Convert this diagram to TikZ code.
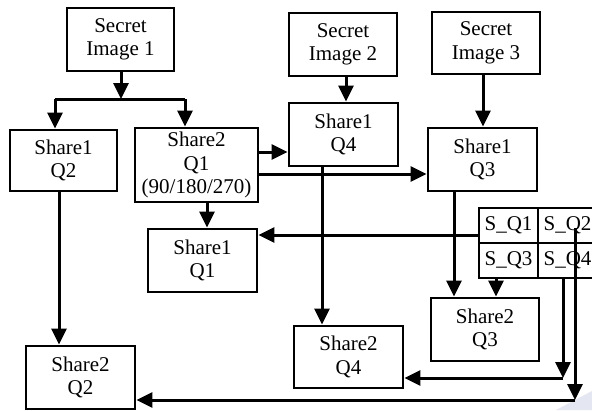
\documentclass[tikz,border=0pt]{standalone}
\usepackage{fontspec}
\setmainfont{Liberation Serif}
\usetikzlibrary{arrows.meta}
\definecolor{wmark}{RGB}{228,230,241}
\begin{document}
\begin{tikzpicture}[x=1pt,y=-1pt,
  box/.style={draw,line width=2.8pt,inner sep=0pt,align=center,
    font=\fontsize{21}{23.5}\selectfont},
  cell/.style={draw,line width=2.6pt,inner sep=0pt,minimum width=59pt,minimum height=35pt,
    font=\fontsize{21}{23.5}\selectfont},
  arr/.style={line width=3pt,-{Triangle[length=16pt,width=15pt]}},
  ln/.style={line width=3pt}]
\useasboundingbox (0,0) rectangle (592,410);
\fill[wmark] (556,410) -- (592,391) -- (592,410) -- cycle;
% boxes
\node[box,minimum width=107pt,minimum height=63pt] (si1) at (120.5,39.5) {Secret\\Image 1};
\node[box,minimum width=108pt,minimum height=63pt] (si2) at (343,44.5) {Secret\\Image 2};
\node[box,minimum width=108pt,minimum height=62pt] (si3) at (486,43) {Secret\\Image 3};
\node[box,minimum width=107pt,minimum height=61pt] (s1q2) at (63.5,160.5) {Share1\\Q2};
\node[box,minimum width=123pt,minimum height=74pt] (s2q1) at (196.5,165) {Share2\\Q1\\(90/180/270)};
\node[box,minimum width=109pt,minimum height=63pt] (s1q4) at (343.5,134.5) {Share1\\Q4};
\node[box,minimum width=109pt,minimum height=63pt] (s1q3) at (482.5,159.5) {Share1\\Q3};
\node[box,minimum width=109pt,minimum height=63pt] (s1q1) at (202.5,260.5) {Share1\\Q1};
\node[box,minimum width=109pt,minimum height=63pt] (s2q2) at (80.5,377.5) {Share2\\Q2};
\node[box,minimum width=109pt,minimum height=62pt] (s2q4) at (348.5,357) {Share2\\Q4};
\node[box,minimum width=108pt,minimum height=63pt] (s2q3) at (485,329.5) {Share2\\Q3};
% grid
\node[cell] (c1) at (508.5,225.5) {S\_Q1};
\node[cell] (c2) at (567.5,225.5) {S\_Q2};
\node[cell] (c3) at (508.5,260.5) {S\_Q3};
\node[cell] (c4) at (567.5,260.5) {S\_Q4};
% split from secret image 1
\coordinate (j1) at (121,99);
\coordinate (hl) at (55,99);
\coordinate (hr) at (185,99);
\draw[arr] (si1.south -| j1) -- (j1);
\draw[ln] (hl) -- (hr);
\draw[arr] (hl) -- (hl |- s1q2.north);
\draw[arr] (hr) -- (hr |- s2q1.north);
% from share2 q1
\draw[arr] (s2q1.east |- 0,152) -- (s1q4.west |- 0,152);
\draw[arr] (s2q1.east |- 0,174) -- (s1q3.west |- 0,174);
\draw[arr] (s2q1.south -| 207,0) -- (s1q1.north -| 207,0);
% secret images 2,3
\draw[arr] (si2.south -| 346,0) -- (s1q4.north -| 346,0);
\draw[arr] (si3.south -| 483,0) -- (s1q3.north -| 483,0);
% verticals
\draw[arr] (s1q2.south -| 59,0) -- (s2q2.north -| 59,0);
\draw[arr] (s1q4.south -| 322,0) -- (s2q4.north -| 322,0);
\draw[arr] (s1q3.south -| 454,0) -- (s2q3.north -| 454,0);
\draw[arr] (c3.south -| 496,0) -- (s2q3.north -| 496,0);
% grid to share1 q1
\draw[arr] (c1.west |- 0,235) -- (s1q1.east |- 0,235);
% S_Q4 route
\coordinate (k1) at (563,378);
\draw[arr] (c4.south -| k1) -- (k1);
\draw[arr] (k1) -- (s2q4.east |- k1);
% S_Q2 route
\coordinate (k0) at (575,228);
\coordinate (k2) at (575,400);
\draw[arr] (k0) -- (k2);
\draw[arr] (k2) -- (s2q2.east |- k2);
\end{tikzpicture}
\end{document}
